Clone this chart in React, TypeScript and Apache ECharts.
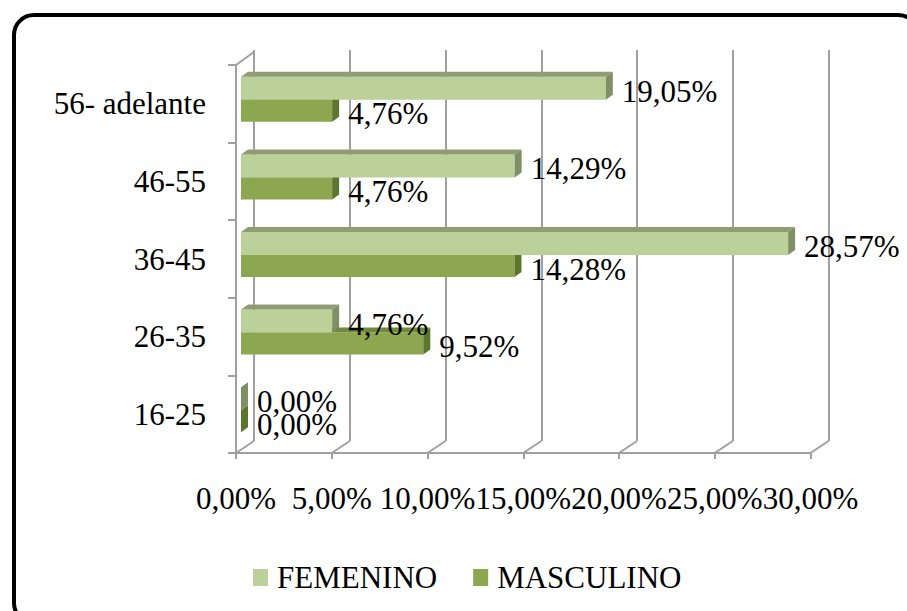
import React, { useEffect, useRef } from "react";
import * as echarts from "echarts";

const categories = ["16-25", "26-35", "36-45", "46-55", "56- adelante"];
const femenino = [0, 4.76, 28.57, 14.29, 19.05];
const masculino = [0, 9.52, 14.28, 4.76, 4.76];
const xTicks = [0, 5, 10, 15, 20, 25, 30];
const seriesNames = ["FEMENINO", "MASCULINO"];

const FONT = "'Liberation Serif', 'Times New Roman', serif";
const FS = 31;
const GRID_COLOR = "#a0a0a0";

const fmt = (v: number) => v.toFixed(2).replace(".", ",") + "%";

const COLORS = {
  f: { face: "#bcd09a", top: "#8f9d75", side: "#7f9064" },
  m: { face: "#8ca74f", top: "#6f8a3c", side: "#5c772d" },
};

function makeBarRender(kind: "f" | "m") {
  const c = COLORS[kind];
  return (params: any, api: any) => {
    const val = api.value(0);
    const cat = api.value(1);
    const p0 = api.coord([0, cat]);
    const p1 = api.coord([val, cat]);
    const cy = p0[1];
    const y0 = kind === "f" ? cy - 23 : cy;
    const y1 = kind === "f" ? cy : cy + 22;
    const x0 = p0[0];
    const x1 = p1[0];
    const dx = 7;
    const dy = 5;
    return {
      type: "group",
      children: [
        {
          type: "rect",
          shape: { x: x0, y: y0, width: x1 - x0, height: y1 - y0 },
          style: { fill: c.face },
        },
        {
          type: "polygon",
          shape: {
            points: [
              [x0, y0],
              [x0 + dx, y0 - dy],
              [x1 + dx, y0 - dy],
              [x1, y0],
            ],
          },
          style: { fill: c.top },
        },
        {
          type: "polygon",
          shape: {
            points: [
              [x1, y0],
              [x1 + dx, y0 - dy],
              [x1 + dx, y1 - dy],
              [x1, y1],
            ],
          },
          style: { fill: c.side },
        },
        {
          type: "text",
          style: {
            text: fmt(val),
            x: x1 + dx + 9,
            y: (y0 + y1) / 2 + 3,
            fontSize: FS,
            fontFamily: FONT,
            fill: "#000",
            align: "left",
            verticalAlign: "middle",
          },
        },
      ],
    };
  };
}

function frameRender(params: any, api: any) {
  const v = api.value(0);
  const cs = params.coordSys;
  const p = api.coord([v, 0]);
  const bottom = cs.y + cs.height;
  const children: any[] = [
    {
      type: "line",
      shape: { x1: p[0] + 13, y1: bottom - 8, x2: p[0] - 5, y2: bottom + 4 },
      style: { stroke: GRID_COLOR, lineWidth: 2 },
    },
  ];
  if (v === 0) {
    children.push({
      type: "line",
      shape: { x1: p[0] - 5, y1: cs.y + 4, x2: p[0] + 13, y2: cs.y - 9 },
      style: { stroke: GRID_COLOR, lineWidth: 2 },
    });
  }
  return { type: "group", children };
}

export default function App() {
  const ref = useRef<HTMLDivElement>(null);
  useEffect(() => {
    if (!ref.current) return;
    const chart = echarts.init(ref.current, null, { renderer: "svg" });
    chart.setOption({
      animation: false,
      backgroundColor: "#fff",
      textStyle: { fontFamily: FONT },
      grid: [
        { left: 241, top: 61, width: 574.5, height: 388 },
        { left: 236, top: 65, width: 574.5, height: 388 },
        { left: 254, top: 50, width: 574.5, height: 391 },
      ],
      xAxis: [
        { gridIndex: 0, type: "value", min: 0, max: 30, interval: 5, show: false },
        {
          gridIndex: 1,
          type: "value",
          min: 0,
          max: 30,
          interval: 5,
          axisLine: { show: true, lineStyle: { color: GRID_COLOR, width: 2 } },
          axisTick: { show: true, length: 6, lineStyle: { color: GRID_COLOR, width: 2 } },
          splitLine: { show: false },
          axisLabel: {
            formatter: (v: number) => fmt(v),
            fontSize: FS,
            fontFamily: FONT,
            color: "#000",
            margin: 30,
            showMinLabel: true,
            showMaxLabel: true,
          },
        },
        {
          gridIndex: 2,
          type: "value",
          min: 0,
          max: 30,
          interval: 5,
          axisLine: { show: false },
          axisTick: { show: false },
          axisLabel: { show: false },
          splitLine: { show: true, lineStyle: { color: GRID_COLOR, width: 2 } },
        },
      ],
      yAxis: [
        { gridIndex: 0, type: "category", data: categories, show: false },
        {
          gridIndex: 1,
          type: "category",
          data: categories,
          axisLine: { show: true, lineStyle: { color: GRID_COLOR, width: 2 } },
          axisTick: { show: true, length: 8, lineStyle: { color: GRID_COLOR, width: 2 } },
          axisLabel: { fontSize: FS, fontFamily: FONT, color: "#000", margin: 30 },
          splitLine: { show: false },
        },
        { gridIndex: 2, type: "category", data: categories, show: false },
      ],
      legend: {
        data: seriesNames,
        left: 253,
        top: 562,
        padding: 0,
        icon: "rect",
        itemWidth: 15,
        itemHeight: 17,
        itemGap: 36,
        textStyle: { fontSize: FS, fontFamily: FONT, color: "#000", padding: [0, 0, 0, 4] },
      },
      series: [
        {
          type: "custom",
          name: "frame",
          xAxisIndex: 0,
          yAxisIndex: 0,
          clip: false,
          silent: true,
          z: 1,
          data: xTicks.map((v) => [v, 0]),
          encode: { x: 0, y: 1 },
          renderItem: frameRender,
        },
        {
          type: "custom",
          name: seriesNames[1],
          xAxisIndex: 0,
          yAxisIndex: 0,
          clip: false,
          z: 3,
          itemStyle: { color: COLORS.m.face },
          data: masculino.map((v, i) => [v, i]),
          encode: { x: 0, y: 1 },
          renderItem: makeBarRender("m"),
        },
        {
          type: "custom",
          name: seriesNames[0],
          xAxisIndex: 0,
          yAxisIndex: 0,
          clip: false,
          z: 4,
          itemStyle: { color: COLORS.f.face },
          data: femenino.map((v, i) => [v, i]),
          encode: { x: 0, y: 1 },
          renderItem: makeBarRender("f"),
        },
      ],
      graphic: [
        {
          type: "rect",
          shape: { x: 14, y: 15, width: 904, height: 608, r: 20 },
          style: { fill: "none", stroke: "#000", lineWidth: 4 },
          z: 100,
          silent: true,
        },
      ],
    });
    return () => chart.dispose();
  }, []);
  return (
    <div
      ref={ref}
      style={{ position: "fixed", left: 0, top: 0, width: 907, height: 611 }}
    />
  );
}
